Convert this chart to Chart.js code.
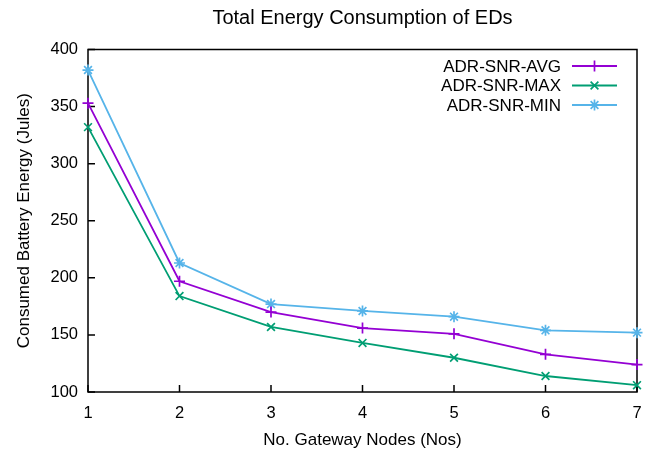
<!DOCTYPE html>
<html lang="en">
<head>
<meta charset="UTF-8">
<title>Total Energy Consumption of EDs</title>
<script src="https://cdn.jsdelivr.net/npm/chart.js"></script>
<style>
  html, body { margin: 0; padding: 0; background: #fff; }
</style>
</head>
<body>
<canvas id="energyChart" width="655" height="455"></canvas>
<script>
// values
const gateways = [1, 2, 3, 4, 5, 6, 7];
const adrSnrAvg = [353, 197, 170, 156, 151, 133, 124];
const adrSnrMax = [332, 184, 157, 143, 130, 114, 106];
const adrSnrMin = [382, 213, 177, 171, 166, 154, 152];
const yTicks = [100, 150, 200, 250, 300, 350, 400];

const FONT = "'Liberation Sans', Arial, sans-serif";

function toPoints(values) {
    return values.map((v, i) => ({ x: gateways[i], y: v }));
}

function series(label, values, color, pointStyle) {
    return {
        label: label,
        data: toPoints(values),
        borderColor: color,
        backgroundColor: color,
        borderWidth: 1.8,
        pointStyle: pointStyle,
        pointRadius: 5.5,
        pointBorderWidth: 1.7,
        pointBorderColor: color,
        tension: 0,
        clip: false
    };
}

// gnuplot-like frame with inward ticks
const framePlugin = {
    id: "frame",
    beforeDatasetsDraw(chart) {
        const { ctx, chartArea: a, scales } = chart;
        ctx.save();
        ctx.strokeStyle = "#000";
        ctx.lineWidth = 1.5;
        ctx.strokeRect(a.left, a.top, a.right - a.left, a.bottom - a.top);
        ctx.beginPath();
        scales.x.ticks.forEach((t, i) => {
            const px = scales.x.getPixelForTick(i);
            ctx.moveTo(px, a.bottom);
            ctx.lineTo(px, a.bottom - 7);
        });
        scales.y.ticks.forEach((t, i) => {
            const py = scales.y.getPixelForTick(i);
            ctx.moveTo(a.left, py);
            ctx.lineTo(a.left + 7, py);
        });
        ctx.stroke();
        ctx.restore();
    }
};

// legend in the top right corner: text right aligned, sample on the right
const keyPlugin = {
    id: "key",
    afterDatasetsDraw(chart) {
        const { ctx } = chart;
        const textRight = 561, lineL = 572, lineR = 617, top = 66, step = 19.5;
        ctx.save();
        ctx.font = "17px " + FONT;
        ctx.textAlign = "right";
        ctx.textBaseline = "middle";
        chart.data.datasets.forEach((ds, i) => {
            const y = top + i * step;
            ctx.fillStyle = "#000";
            ctx.fillText(ds.label, textRight, y + 1);
            ctx.strokeStyle = ds.borderColor;
            ctx.lineWidth = ds.borderWidth;
            ctx.beginPath();
            ctx.moveTo(lineL, y);
            ctx.lineTo(lineR, y);
            ctx.stroke();
            ctx.lineWidth = ds.pointBorderWidth;
            Chart.helpers.drawPoint(ctx, {
                pointStyle: ds.pointStyle,
                radius: ds.pointRadius,
                borderWidth: ds.pointBorderWidth,
                rotation: 0
            }, (lineL + lineR) / 2, y);
        });
        ctx.restore();
    }
};

const ctx = document.getElementById("energyChart").getContext("2d");
const energyChart = new Chart(ctx, {
    type: "line",
    data: {
        datasets: [
            series("ADR-SNR-AVG", adrSnrAvg, "#9400d3", "cross"),
            series("ADR-SNR-MAX", adrSnrMax, "#009e73", "crossRot"),
            series("ADR-SNR-MIN", adrSnrMin, "#56b4e9", "star")
        ]
    },
    options: {
        responsive: false,
        animation: false,
        layout: { padding: { left: 0, right: 18, top: 0, bottom: 0 } },
        plugins: {
            legend: { display: false },
            tooltip: { enabled: false },
            title: {
                display: true,
                fullSize: false,
                text: "Total Energy Consumption of EDs",
                color: "#000",
                font: { family: FONT, size: 20, weight: "normal" },
                padding: { top: 6.5, bottom: 19 }
            }
        },
        scales: {
            x: {
                type: "linear",
                min: 1,
                max: 7,
                afterFit(scale) { scale.height = 63; },
                grid: { display: false, drawTicks: false },
                border: { display: false },
                ticks: {
                    stepSize: 1,
                    padding: 11.5,
                    color: "#000",
                    font: { family: FONT, size: 16.5 }
                },
                title: {
                    display: true,
                    text: "No. Gateway Nodes (Nos)",
                    color: "#000",
                    font: { family: FONT, size: 17 },
                    padding: { top: 0, bottom: 4 }
                }
            },
            y: {
                min: 100,
                max: 400,
                afterFit(scale) { scale.width = 88; },
                afterBuildTicks(scale) { scale.ticks = yTicks.map(v => ({ value: v })); },
                grid: { display: false, drawTicks: false },
                border: { display: false },
                ticks: {
                    padding: 10,
                    color: "#000",
                    font: { family: FONT, size: 16.5 }
                },
                title: {
                    display: true,
                    text: "Consumed Battery Energy (Jules)",
                    color: "#000",
                    font: { family: FONT, size: 17 },
                    padding: { top: 14, bottom: 0 }
                }
            }
        }
    },
    plugins: [framePlugin, keyPlugin]
});
</script>
</body>
</html>
